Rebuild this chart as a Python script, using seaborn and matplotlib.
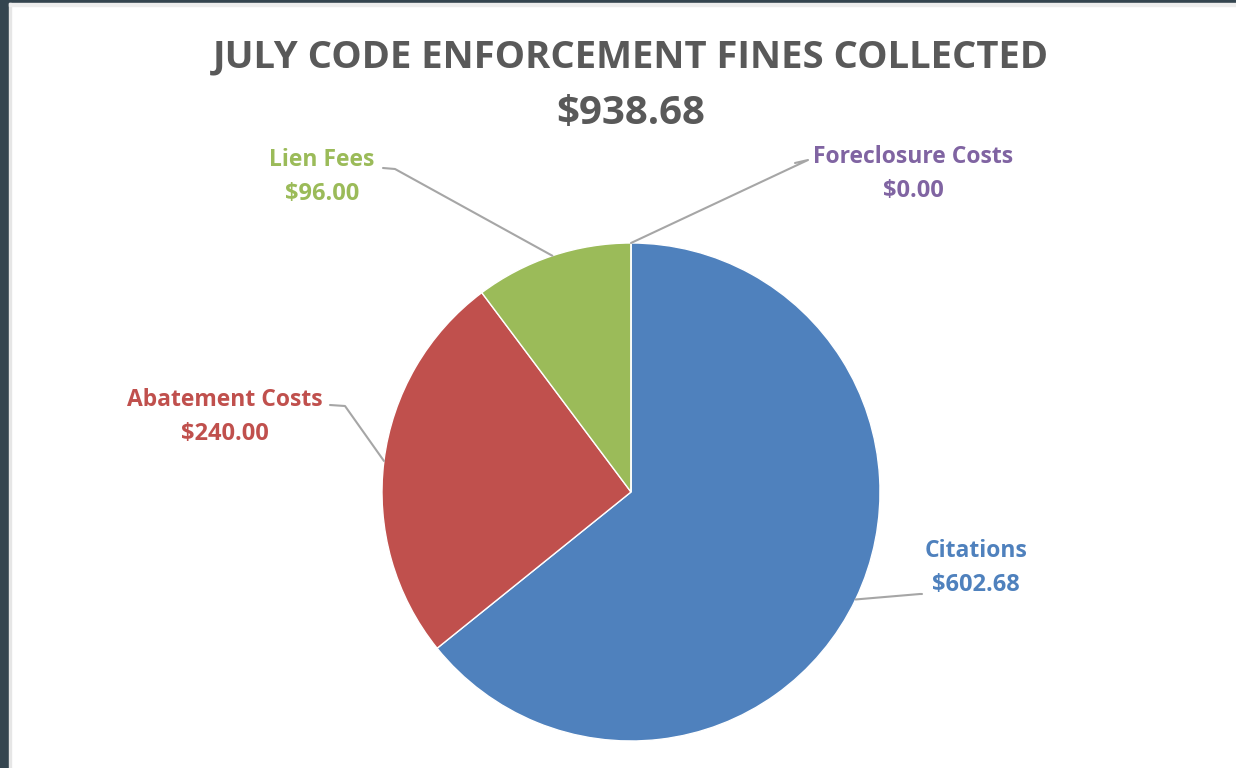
import numpy as np
import matplotlib
matplotlib.use("Agg")
import matplotlib.pyplot as plt
import seaborn as sns
from matplotlib.patches import Rectangle

# Data
categories = ["Citations", "Abatement Costs", "Lien Fees", "Foreclosure Costs"]
amounts = [602.68, 240.00, 96.00, 0.00]
total = 938.68
colors = ["#4F81BD", "#C0504D", "#9BBB59", "#8064A2"]

sns.set_theme(style="white")
plt.rcParams["font.family"] = ["Open Sans", "DejaVu Sans"]

W, H = 1236, 768
fig = plt.figure(figsize=(W / 100, H / 100), dpi=100)
fig.patch.set_facecolor("white")

# dark frame on the left and top, like the screenshot
fig.patches.append(Rectangle((0, 0), 9 / W, 1, transform=fig.transFigure, color="#34454F", zorder=0))
fig.patches.append(Rectangle((0, 1 - 3 / H), 1, 3 / H, transform=fig.transFigure, color="#34454F", zorder=0))
fig.patches.append(Rectangle((9 / W, 0), 2 / W, 1 - 3 / H, transform=fig.transFigure, color="#E6E6E6", zorder=0))
fig.patches.append(Rectangle((9 / W, 1 - 6 / H), 1, 3 / H, transform=fig.transFigure, color="#EDEDED", zorder=0))

ax = fig.add_axes([0, 0, 1, 1])
cx, cy, r = 631, H - 492, 249

wedges, _ = ax.pie(amounts, colors=colors, startangle=90, counterclock=False,
                   center=(cx, cy), radius=r, frame=True,
                   wedgeprops=dict(edgecolor="white", linewidth=1))
ax.set_xlim(0, W)
ax.set_ylim(0, H)
ax.set_aspect("equal")
ax.axis("off")

# Title
ax.text(cx, H - 57, "JULY CODE ENFORCEMENT FINES COLLECTED", ha="center", va="center",
        fontsize=27.5, fontweight="bold", color="#595959")
ax.text(cx, H - 114, f"${total:,.2f}", ha="center", va="center",
        fontsize=29, fontweight="bold", color="#595959")

# label layout: (text center x, y of name line, elbow point near text)
label_pos = {
    "Citations": (976, 551, (920, 594)),
    "Abatement Costs": (225, 400, (345, 406)),
    "Lien Fees": (322, 160, (395, 169)),
    "Foreclosure Costs": (913, 157, (808, 160)),
}
label_end = {
    "Citations": (922, 594),
    "Abatement Costs": (330, 405),
    "Lien Fees": (383, 168),
    "Foreclosure Costs": (795, 163),
}

for w, cat, amt, col in zip(wedges, categories, amounts, colors):
    ang = np.deg2rad((w.theta1 + w.theta2) / 2)
    px, py = cx + r * np.cos(ang), cy + r * np.sin(ang)
    tx, ty, (ex, ey) = label_pos[cat]
    lx, ly = label_end[cat]
    ax.plot([lx, ex, px], [H - ly, H - ey, py], color="#A6A6A6", lw=1.5, zorder=1)
    ax.text(tx, H - ty, cat, ha="center", va="center", fontsize=16.5,
            fontweight="bold", color=col)
    ax.text(tx, H - ty - 34, f"${amt:,.2f}", ha="center", va="center", fontsize=17,
            fontweight="bold", color=col)

fig.savefig("out.png", dpi=100)
